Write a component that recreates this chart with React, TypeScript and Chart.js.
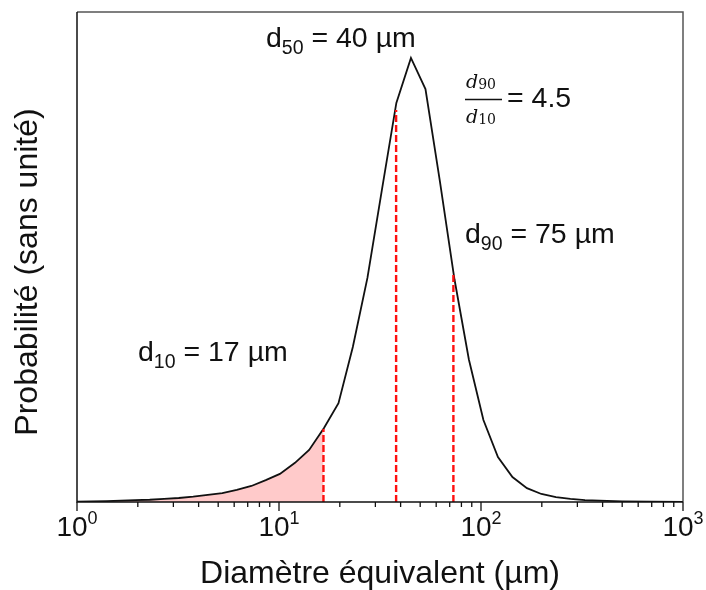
import React, { useEffect, useRef } from "react";
import { Chart, registerables } from "chart.js";

Chart.register(...registerables);

// Equivalent diameter (µm) and probability (arbitrary units)
const diameters = [
  1.0, 1.18, 1.4, 1.65, 1.94, 2.29, 2.7, 3.19, 3.76, 4.44,
  5.24, 6.18, 7.3, 8.6, 10.1, 12.0, 14.1, 16.7, 19.7, 23.2,
  27.4, 32.3, 38.1, 45.0, 53.1, 62.6, 73.9, 87.1, 102.8, 121.3,
  143.1, 168.8, 199, 235, 277, 327, 386, 500, 700, 1000,
];
const probability = [
  0.001, 0.0015, 0.002, 0.003, 0.004, 0.005, 0.007, 0.009, 0.012, 0.016,
  0.02, 0.027, 0.036, 0.049, 0.063, 0.088, 0.117, 0.166, 0.222, 0.348,
  0.503, 0.7, 0.896, 0.997, 0.927, 0.72, 0.5, 0.32, 0.184, 0.101,
  0.056, 0.031, 0.018, 0.011, 0.007, 0.004, 0.003, 0.0015, 0.0008, 0.0005,
];

// Characteristic diameters (position of dashed line, height of dashed line)
const d10 = { x: 16.6, top: 0.164 };
const d50 = { x: 38, top: 0.88 };
const d90 = { x: 73, top: 0.514 };

const decadeTicks = [1, 10, 100, 1000];
const decadeExponents = ["0", "1", "2", "3"];

const xTitle = "Diamètre équivalent (µm)";
const yTitle = "Probabilité (sans unité)";

const SANS = '"Liberation Sans", Arial, sans-serif';
const SERIF = '"DejaVu Serif", "Liberation Serif", serif';
const TEXT = "#111";

function drawSubLabel(
  ctx: CanvasRenderingContext2D,
  x: number,
  y: number,
  main: string,
  sub: string,
  rest: string
) {
  ctx.textAlign = "left";
  ctx.textBaseline = "alphabetic";
  ctx.fillStyle = TEXT;
  ctx.font = `28.5px ${SANS}`;
  ctx.fillText(main, x, y);
  let cx = x + ctx.measureText(main).width;
  ctx.font = `19.5px ${SANS}`;
  ctx.fillText(sub, cx, y + 6.5);
  cx += ctx.measureText(sub).width;
  ctx.font = `28.5px ${SANS}`;
  ctx.fillText(rest, cx, y);
}

const decorPlugin = {
  id: "decor",
  afterDatasetsDraw(chart: any) {
    const ctx: CanvasRenderingContext2D = chart.ctx;
    const { left, right, top, bottom } = chart.chartArea;
    const xs = chart.scales.x;
    ctx.save();

    // frame
    ctx.strokeStyle = "#555";
    ctx.lineWidth = 1.5;
    ctx.beginPath();
    ctx.moveTo(left, top);
    ctx.lineTo(right, top);
    ctx.lineTo(right, bottom);
    ctx.stroke();
    ctx.strokeStyle = "#111";
    ctx.beginPath();
    ctx.moveTo(left, top);
    ctx.lineTo(left, bottom);
    ctx.lineTo(right, bottom);
    ctx.stroke();

    // ticks
    ctx.lineWidth = 1.3;
    ctx.strokeStyle = "#111";
    for (let i = 0; i < decadeTicks.length; i++) {
      const dec = decadeTicks[i];
      const px = xs.getPixelForValue(dec);
      ctx.beginPath();
      ctx.moveTo(px, bottom);
      ctx.lineTo(px, bottom + 9);
      ctx.stroke();
      if (i < decadeTicks.length - 1) {
        for (let m = 2; m <= 9; m++) {
          const mp = xs.getPixelForValue(dec * m);
          ctx.beginPath();
          ctx.moveTo(mp, bottom);
          ctx.lineTo(mp, bottom + 5);
          ctx.stroke();
        }
      }
    }

    // tick labels
    ctx.fillStyle = TEXT;
    ctx.textBaseline = "alphabetic";
    ctx.textAlign = "left";
    for (let i = 0; i < decadeTicks.length; i++) {
      const px = xs.getPixelForValue(decadeTicks[i]);
      ctx.font = `28px ${SANS}`;
      const wMain = ctx.measureText("10").width;
      ctx.font = `18px ${SANS}`;
      const wSup = ctx.measureText(decadeExponents[i]).width;
      const start = px - (wMain + wSup) / 2;
      ctx.font = `28px ${SANS}`;
      ctx.fillText("10", start, bottom + 34);
      ctx.font = `18px ${SANS}`;
      ctx.fillText(decadeExponents[i], start + wMain, bottom + 22);
    }

    // axis titles
    ctx.font = `32px ${SANS}`;
    ctx.textAlign = "center";
    ctx.fillText(xTitle, 380, bottom + 81);
    ctx.save();
    ctx.translate(37, 272);
    ctx.rotate(-Math.PI / 2);
    ctx.fillText(yTitle, 0, 0);
    ctx.restore();

    // annotations
    drawSubLabel(ctx, 266, 47, "d", "50", " = 40 µm");
    drawSubLabel(ctx, 465, 243, "d", "90", " = 75 µm");
    drawSubLabel(ctx, 138, 361, "d", "10", " = 17 µm");

    // ratio d90/d10
    ctx.textAlign = "left";
    ctx.font = `italic 19px ${SERIF}`;
    ctx.fillText("d", 466, 88);
    const w = ctx.measureText("d").width;
    ctx.font = `14px ${SERIF}`;
    ctx.fillText("90", 466 + w, 89);
    ctx.font = `italic 19px ${SERIF}`;
    ctx.fillText("d", 466, 123);
    ctx.font = `14px ${SERIF}`;
    ctx.fillText("10", 466 + w, 124);
    ctx.strokeStyle = TEXT;
    ctx.lineWidth = 1.4;
    ctx.beginPath();
    ctx.moveTo(465, 99.5);
    ctx.lineTo(502, 99.5);
    ctx.stroke();
    ctx.font = `28.5px ${SANS}`;
    ctx.fillText("= 4.5", 507, 107);

    ctx.restore();
  },
};

export default function App() {
  const ref = useRef<HTMLCanvasElement>(null);
  useEffect(() => {
    document.body.style.margin = "0";
    const canvas = ref.current;
    if (!canvas) return;
    const curve = diameters.map((d, i) => ({ x: d, y: probability[i] }));
    const fillPts = diameters
      .map((d, i) => ({ x: d, y: probability[i] }))
      .filter((p) => p.x < d10.x);
    fillPts.push({ x: d10.x, y: d10.top });
    const vline = (v: { x: number; top: number }) => [
      { x: v.x, y: 0 },
      { x: v.x, y: v.top },
    ];
    const dashed = {
      borderColor: "#ff1010",
      borderWidth: 2.4,
      borderDash: [7, 3],
      pointRadius: 0,
      fill: false,
      order: 0,
    };
    const chart = new Chart(canvas, {
      type: "line",
      data: {
        datasets: [
          { ...dashed, data: vline(d10) },
          { ...dashed, data: vline(d50) },
          { ...dashed, data: vline(d90) },
          {
            data: curve,
            borderColor: "#111",
            borderWidth: 1.8,
            pointRadius: 0,
            tension: 0,
            fill: false,
            order: 1,
          },
          {
            data: fillPts,
            borderWidth: 0,
            borderColor: "rgba(0,0,0,0)",
            backgroundColor: "#ffcaca",
            pointRadius: 0,
            tension: 0,
            fill: "origin",
            order: 2,
          },
        ],
      } as any,
      options: {
        responsive: false,
        animation: false,
        devicePixelRatio: 1,
        layout: { padding: { left: 77, top: 12, right: 23, bottom: 88 } },
        plugins: {
          legend: { display: false },
          tooltip: { enabled: false },
        },
        scales: {
          x: { type: "logarithmic", min: 1, max: 1000, display: false },
          y: { type: "linear", min: 0, max: 1.1, display: false },
        },
      },
      plugins: [decorPlugin],
    });
    return () => chart.destroy();
  }, []);
  return <canvas ref={ref} width={706} height={590} style={{ display: "block" }} />;
}
